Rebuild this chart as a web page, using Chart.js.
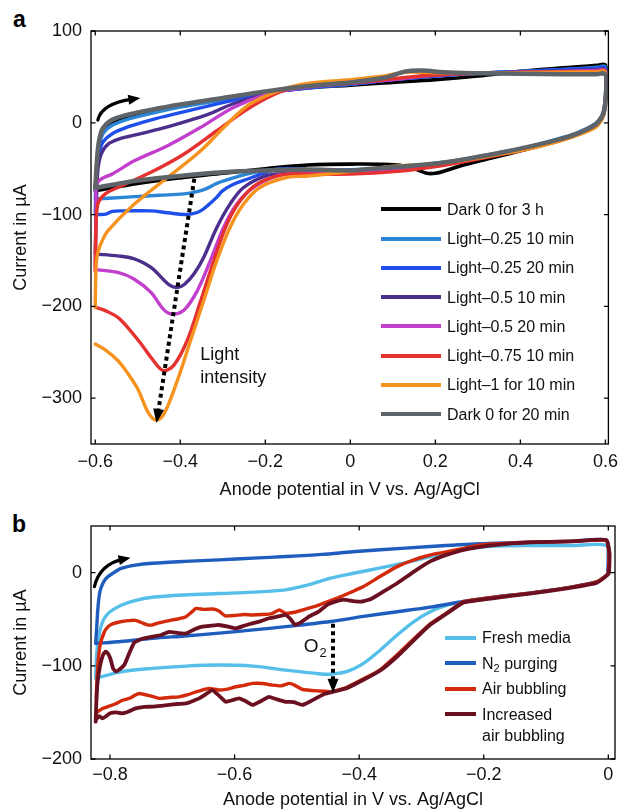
<!DOCTYPE html>
<html><head><meta charset="utf-8">
<script src="https://cdn.jsdelivr.net/npm/chart.js@4"></script>
<style>
html,body{margin:0;padding:0;background:#fff;}
body{width:625px;height:811px;position:relative;overflow:hidden;font-family:'Liberation Sans',Arial,Helvetica,sans-serif;}
#wa{position:absolute;left:0;top:0;width:625px;height:505px;}
#wb{position:absolute;left:0;top:505px;width:625px;height:306px;}
.panel{position:absolute;font-weight:bold;font-size:23px;line-height:23px;color:#000;}
.legend{position:absolute;font-size:16px;color:#111;}
.row{display:flex;align-items:flex-start;}
.sw{flex:none;height:4px;}
.txt{line-height:21px;white-space:nowrap;margin-left:6px;}
.txt sub{font-size:11px;line-height:0;vertical-align:-3px;}
</style></head>
<body>
<div class="panel" style="left:13px;top:8px">a</div>
<div class="panel" style="left:12px;top:513px">b</div>
<div id="wa"><canvas id="ca"></canvas></div>
<div id="wb"><canvas id="cb"></canvas></div>
<div id="legA" class="legend" style="left:381px;top:194.6px"></div>
<div id="legB" class="legend" style="left:445px;top:625px"></div>
<script>
// ---------- tick values ----------
const xTicksA = [-0.6, -0.4, -0.2, 0, 0.2, 0.4, 0.6];
const yTicksA = [-300, -200, -100, 0, 100];
const xTicksB = [-0.8, -0.6, -0.4, -0.2, 0];
const yTicksB = [-200, -100, 0];

// ---------- panel a : [potential V, current uA] ----------
const labelsA = ['Dark 0 for 3 h', 'Light\u20130.25 10 min', 'Light\u20130.25 20 min', 'Light\u20130.5 10 min',
  'Light\u20130.5 20 min', 'Light\u20130.75 10 min', 'Light\u20131 for 10 min', 'Dark 0 for 20 min'];
const colorsA = ['#000000', '#2B86D8', '#1F4FEA', '#4C2E8C', '#C23FCD', '#E5312F', '#F6921E', '#5E6468'];

const dark3h = [[-0.600,-74],[-0.597,-52],[-0.594,-32],[-0.590,-19],[-0.582,-8],[-0.565,0],[-0.530,6],[-0.470,12],[-0.400,18],[-0.300,26],[-0.200,33],[-0.100,38],[0.000,41],[0.100,44],[0.200,47],[0.300,51],[0.400,56],[0.500,60],[0.580,62.5],[0.600,63],
  [0.601,35],[0.597,15],[0.590,6],[0.577,-1],[0.538,-11],[0.500,-18],[0.421,-28],[0.344,-37],[0.266,-46],[0.225,-52],[0.200,-55],[0.180,-55],[0.150,-50],[0.110,-46],[0.000,-45],[-0.100,-46],[-0.200,-50],[-0.300,-55],[-0.400,-60],[-0.500,-66],[-0.600,-74]];
const lt25_10 = [[-0.600,-83],[-0.598,-60],[-0.595,-38],[-0.590,-23],[-0.582,-12],[-0.565,-4],[-0.530,3],[-0.470,10],[-0.400,17],[-0.300,25],[-0.200,33],[-0.100,38],[0.000,42],[0.100,47],[0.200,51],[0.300,54],[0.400,56],[0.500,58],[0.580,60.5],[0.600,61],
  [0.601,33],[0.597,14],[0.590,6],[0.577,-1],[0.538,-10],[0.500,-16],[0.421,-26],[0.344,-33],[0.266,-40],[0.188,-45],[0.111,-49],[0.000,-51],[-0.100,-51],[-0.158,-50],[-0.200,-52],[-0.236,-55],[-0.275,-60],[-0.314,-66],[-0.340,-72],[-0.361,-75],[-0.391,-77.5],[-0.450,-79],[-0.508,-80.5],[-0.560,-82],[-0.600,-83]];
const lt25_20 = [[-0.600,-100],[-0.598,-70],[-0.595,-48],[-0.590,-32],[-0.582,-21],[-0.560,-12],[-0.520,-4],[-0.470,3],[-0.400,11],[-0.300,22],[-0.200,32],[-0.100,38],[0.000,42],[0.100,47],[0.200,51],[0.300,54],[0.400,56],[0.500,58],[0.580,59.5],[0.600,60],
  [0.601,32],[0.597,13],[0.590,5],[0.577,-2],[0.538,-11],[0.500,-17],[0.421,-27],[0.344,-34],[0.266,-41],[0.188,-46],[0.111,-50],[0.000,-52],[-0.100,-51],[-0.158,-50],[-0.197,-54],[-0.240,-61],[-0.275,-67],[-0.300,-74],[-0.314,-81],[-0.335,-90],[-0.352,-96],[-0.370,-99],[-0.390,-100],[-0.430,-98],[-0.470,-96],[-0.530,-96],[-0.560,-96.5],[-0.575,-99.5],[-0.590,-100],[-0.600,-100]];
const lt50_10 = [[-0.600,-143],[-0.598,-100],[-0.596,-70],[-0.593,-48],[-0.585,-33],[-0.569,-23],[-0.540,-17],[-0.508,-13.5],[-0.450,-7],[-0.390,1],[-0.330,10],[-0.274,21],[-0.200,31],[-0.157,37],[-0.100,40],[0.000,43],[0.100,47],[0.200,52],[0.300,54],[0.400,55],[0.500,56.5],[0.580,57.8],[0.600,58],
  [0.601,31],[0.597,13],[0.590,5],[0.577,-2],[0.538,-11],[0.500,-17],[0.421,-27],[0.344,-34],[0.266,-41],[0.188,-47],[0.111,-51],[0.000,-54],[-0.100,-54],[-0.150,-55],[-0.197,-57.7],[-0.251,-70.5],[-0.283,-88.6],[-0.314,-114],[-0.345,-146.7],[-0.368,-164.8],[-0.390,-176],[-0.405,-179.4],[-0.425,-177],[-0.469,-157.6],[-0.510,-148],[-0.547,-145],[-0.600,-143]];
const lt50_20 = [[-0.600,-160],[-0.599,-120],[-0.598,-90],[-0.597,-67],[-0.585,-61],[-0.561,-56],[-0.508,-41.4],[-0.430,-25],[-0.352,-5],[-0.275,16.7],[-0.197,31],[-0.130,37],[-0.100,39],[0.000,43],[0.100,47],[0.200,52],[0.300,54],[0.400,55],[0.500,56],[0.580,57],[0.600,57],
  [0.601,30],[0.597,12],[0.590,4],[0.577,-3],[0.538,-12],[0.500,-18],[0.421,-28],[0.344,-35],[0.266,-42],[0.188,-48],[0.111,-52],[0.000,-55],[-0.100,-55],[-0.150,-56],[-0.174,-57.7],[-0.228,-70.5],[-0.267,-88.6],[-0.298,-114],[-0.329,-150],[-0.360,-183],[-0.391,-204],[-0.420,-208.4],[-0.440,-203],[-0.469,-184.8],[-0.510,-170],[-0.547,-163],[-0.600,-160]];
const lt75_10 = [[-0.600,-162],[-0.599,-130],[-0.597,-100],[-0.592,-86],[-0.575,-77],[-0.547,-70.5],[-0.469,-54],[-0.391,-34],[-0.314,-8.7],[-0.236,16.7],[-0.158,35],[-0.100,40],[0.000,43],[0.100,48],[0.200,52],[0.300,54],[0.400,55],[0.500,55.5],[0.580,56],[0.600,56],
  [0.601,29],[0.597,11],[0.590,3],[0.577,-4],[0.538,-12],[0.500,-18.5],[0.421,-28],[0.344,-35.5],[0.266,-42.5],[0.188,-48.5],[0.111,-53],[0.000,-56],[-0.100,-56],[-0.158,-56.5],[-0.220,-66.8],[-0.259,-85],[-0.290,-110],[-0.321,-150],[-0.352,-194],[-0.384,-237.5],[-0.415,-264],[-0.440,-270],[-0.465,-258],[-0.492,-241],[-0.520,-225],[-0.547,-212],[-0.575,-205],[-0.600,-201]];
const lt1_10 = [[-0.600,-201],[-0.599,-170],[-0.597,-150],[-0.593,-140],[-0.585,-130],[-0.570,-117.6],[-0.508,-88.6],[-0.430,-59.6],[-0.352,-30.5],[-0.290,-1.5],[-0.236,20.4],[-0.158,36.7],[-0.100,43],[0.000,47],[0.080,51],[0.130,55],[0.200,54.5],[0.300,54],[0.400,54.5],[0.500,55],[0.580,55.5],[0.600,55.5],
  [0.601,28],[0.597,10],[0.590,2],[0.577,-5],[0.538,-13],[0.500,-19],[0.421,-28.5],[0.344,-35],[0.266,-41],[0.188,-45],[0.111,-47],[0.050,-50],[0.000,-53],[-0.100,-58],[-0.151,-59.6],[-0.213,-70.5],[-0.251,-88.6],[-0.283,-114],[-0.314,-150],[-0.345,-194],[-0.376,-237.5],[-0.407,-281],[-0.438,-317],[-0.456,-324],[-0.475,-316],[-0.500,-290],[-0.525,-272],[-0.547,-259],[-0.575,-248],[-0.600,-241]];
const dark20 = [[-0.600,-71],[-0.597,-48],[-0.594,-30],[-0.590,-17],[-0.582,-6],[-0.565,2],[-0.530,8],[-0.470,14],[-0.400,20],[-0.300,27],[-0.200,34],[-0.100,40],[0.000,44],[0.080,49],[0.130,56],[0.170,57],[0.220,55],[0.300,54],[0.400,53.5],[0.500,53],[0.580,53],[0.600,53],
  [0.601,30],[0.597,13],[0.590,5],[0.577,-2],[0.538,-11],[0.500,-17],[0.421,-26],[0.344,-33.5],[0.266,-40],[0.188,-45],[0.111,-48],[0.050,-50],[0.000,-52],[-0.100,-51],[-0.200,-52],[-0.300,-54],[-0.400,-58],[-0.500,-63],[-0.600,-71]];

// ---------- panel b : [potential V, current uA] ----------
const labelsB = ['Fresh media', 'N\u2082 purging', 'Air bubbling', 'Increased\nair bubbling'];
const colorsB = ['#55BFEA', '#1E5DBE', '#D32A0B', '#6A1020'];

const fresh = [[-0.823,-113],[-0.822,-95],[-0.820,-78],[-0.816,-62],[-0.810,-50],[-0.800,-42],[-0.782,-35],[-0.760,-30],[-0.732,-26.5],[-0.680,-24],[-0.625,-22.5],[-0.570,-21],[-0.518,-18.5],[-0.480,-13],[-0.446,-6],[-0.411,-1],[-0.366,5],[-0.320,11.5],[-0.286,17.2],[-0.250,22.5],[-0.222,26],[-0.180,28.5],[-0.120,29],[-0.060,29],[-0.003,29],
  [0.000,15],[-0.001,0],[-0.003,-3],[-0.019,-10],[-0.072,-17],[-0.126,-22],[-0.180,-26],[-0.232,-31],[-0.259,-35],[-0.286,-42],[-0.312,-52.6],[-0.339,-67],[-0.366,-83],[-0.393,-97.4],[-0.419,-106],[-0.446,-109],[-0.465,-108.5],[-0.518,-104.6],[-0.571,-100.3],[-0.625,-99.2],[-0.678,-100.3],[-0.732,-102.8],[-0.782,-106.4],[-0.823,-113.6]];
const n2 = [[-0.823,-76],[-0.821,-55],[-0.819,-35],[-0.816,-20],[-0.811,-11],[-0.806,-6],[-0.796,-1],[-0.782,4.5],[-0.759,8],[-0.732,10],[-0.680,12],[-0.625,13.6],[-0.570,15.5],[-0.518,17.2],[-0.460,19.5],[-0.411,22.3],[-0.366,24.5],[-0.286,28],[-0.206,30.9],[-0.126,32.6],[-0.060,33.5],[-0.003,34.5],
  [0.000,20],[-0.001,0],[-0.003,-3],[-0.019,-10],[-0.072,-17],[-0.126,-22],[-0.180,-26],[-0.232,-31],[-0.286,-37],[-0.339,-42],[-0.393,-47],[-0.446,-52.5],[-0.518,-58],[-0.570,-61.5],[-0.625,-65],[-0.680,-68],[-0.732,-70.5],[-0.782,-74],[-0.823,-76]];
const air = [[-0.822,-135],[-0.821,-115],[-0.819,-95],[-0.816,-78],[-0.809,-63.5],[-0.803,-58],[-0.796,-55],[-0.785,-53],[-0.770,-51.5],[-0.759,-51.3],[-0.748,-54],[-0.740,-56],[-0.732,-56.2],[-0.722,-54],[-0.705,-51.5],[-0.690,-49.5],[-0.678,-47.3],[-0.670,-43],[-0.662,-38.4],[-0.650,-39.5],[-0.635,-39],[-0.625,-41.2],[-0.615,-46.5],[-0.600,-46],[-0.585,-45],[-0.5715,-45.5],[-0.555,-45],[-0.540,-44],[-0.528,-40],[-0.518,-43.7],[-0.500,-42],[-0.490,-40],[-0.475,-37],[-0.465,-34.8],[-0.446,-30],[-0.430,-26],[-0.411,-20.4],[-0.393,-15],[-0.366,-4],[-0.339,6.4],[-0.312,13.6],[-0.286,18.9],[-0.232,26],[-0.206,29.7],[-0.126,32.6],[-0.060,33.5],[-0.003,34.5],
  [0.001,20],[0.000,0],[-0.003,-3],[-0.019,-10],[-0.072,-17],[-0.126,-22],[-0.180,-26],[-0.232,-31],[-0.259,-43],[-0.286,-55],[-0.312,-71],[-0.339,-88],[-0.366,-104],[-0.393,-114],[-0.420,-123],[-0.443,-127.9],[-0.465,-127],[-0.491,-125.4],[-0.503,-121],[-0.512,-118.9],[-0.525,-121.5],[-0.539,-120.7],[-0.555,-119],[-0.571,-118.9],[-0.585,-121],[-0.598,-122.5],[-0.612,-125],[-0.625,-126],[-0.641,-124.3],[-0.652,-126],[-0.662,-127.9],[-0.675,-131],[-0.689,-133.3],[-0.705,-134],[-0.721,-135],[-0.737,-132],[-0.753,-129.7],[-0.761,-132],[-0.769,-135],[-0.780,-137],[-0.790,-140.4],[-0.800,-143],[-0.812,-145.8],[-0.820,-149.4]];
const increased = [[-0.823,-160],[-0.822,-140],[-0.820,-118],[-0.816,-100],[-0.811,-88],[-0.807,-84.8],[-0.803,-87],[-0.799,-93],[-0.795,-103],[-0.791,-106],[-0.785,-104],[-0.777,-99],[-0.770,-88],[-0.761,-75],[-0.748,-71],[-0.732,-68.8],[-0.718,-67],[-0.705,-63.5],[-0.690,-65],[-0.678,-65.3],[-0.665,-61],[-0.652,-58],[-0.638,-57],[-0.625,-56.2],[-0.610,-58],[-0.598,-59.8],[-0.585,-57],[-0.5715,-54.4],[-0.558,-52],[-0.545,-49],[-0.530,-47],[-0.518,-45.5],[-0.510,-50],[-0.503,-56],[-0.495,-54],[-0.480,-47],[-0.465,-41.9],[-0.450,-34],[-0.438,-31.1],[-0.425,-29],[-0.410,-30.5],[-0.395,-31],[-0.380,-28],[-0.360,-20],[-0.339,-11.4],[-0.312,1.1],[-0.286,12],[-0.260,19],[-0.232,24.5],[-0.180,29.7],[-0.126,32.5],[-0.060,33.5],[-0.003,35],
  [0.002,20],[0.001,0],[-0.002,-3],[-0.019,-11],[-0.072,-17.5],[-0.126,-22.5],[-0.180,-27],[-0.232,-32],[-0.259,-43.7],[-0.286,-56],[-0.312,-72.4],[-0.339,-90],[-0.366,-105],[-0.393,-115],[-0.420,-124],[-0.443,-128],[-0.455,-130],[-0.465,-133.3],[-0.478,-138],[-0.491,-142],[-0.505,-139],[-0.518,-138.6],[-0.532,-136],[-0.545,-133.3],[-0.558,-138],[-0.571,-142],[-0.582,-138],[-0.593,-135],[-0.604,-137],[-0.614,-138.6],[-0.625,-132],[-0.636,-126],[-0.647,-131],[-0.657,-135],[-0.668,-138],[-0.678,-140.4],[-0.692,-141],[-0.705,-142],[-0.718,-143],[-0.732,-143.9],[-0.745,-144],[-0.759,-145.7],[-0.770,-149],[-0.780,-151],[-0.790,-150],[-0.800,-151],[-0.806,-154],[-0.812,-156.5],[-0.817,-154],[-0.823,-158]];

const seriesA = [dark3h, lt25_10, lt25_20, lt50_10, lt50_20, lt75_10, lt1_10, dark20];
const seriesB = [fresh, n2, air, increased];

// ---------- helpers ----------
Chart.defaults.font.family = "'Liberation Sans', Arial, Helvetica, sans-serif";
Chart.defaults.color = '#111';
const pts = arr => arr.map(([x, y]) => ({x, y}));
const fmt = v => (v < 0 ? '\u2212' : '') + String(Math.round(Math.abs(v) * 100) / 100);

const framePlugin = {
  id: 'frame',
  afterDatasetsDraw(chart) {
    const {ctx, chartArea: a} = chart;
    const x = chart.scales.x, y = chart.scales.y;
    ctx.save();
    ctx.strokeStyle = '#000';
    ctx.lineWidth = 1.3;
    ctx.strokeRect(a.left, a.top, a.right - a.left, a.bottom - a.top);
    const L = 4.5;
    ctx.beginPath();
    x.ticks.forEach(t => {
      const p = x.getPixelForValue(t.value);
      ctx.moveTo(p, a.bottom); ctx.lineTo(p, a.bottom - L);
      ctx.moveTo(p, a.top); ctx.lineTo(p, a.top + L);
    });
    y.ticks.forEach(t => {
      const p = y.getPixelForValue(t.value);
      ctx.moveTo(a.left, p); ctx.lineTo(a.left + L, p);
      ctx.moveTo(a.right, p); ctx.lineTo(a.right - L, p);
    });
    ctx.stroke();
    ctx.restore();
  }
};

function head(ctx, tip, dir, len, wid) {
  const n = Math.hypot(dir[0], dir[1]);
  const ux = dir[0] / n, uy = dir[1] / n;
  const bx = tip[0] - ux * len, by = tip[1] - uy * len;
  ctx.beginPath();
  ctx.moveTo(tip[0], tip[1]);
  ctx.lineTo(bx - uy * wid / 2, by + ux * wid / 2);
  ctx.lineTo(bx + uy * wid / 2, by - ux * wid / 2);
  ctx.closePath();
  ctx.fill();
}

const notesPlugin = {
  id: 'notes',
  afterDatasetsDraw(chart, args, opts) {
    const {ctx} = chart;
    const x = chart.scales.x, y = chart.scales.y;
    const P = p => [x.getPixelForValue(p[0]), y.getPixelForValue(p[1])];
    ctx.save();
    ctx.fillStyle = '#000';
    ctx.strokeStyle = '#000';
    (opts.curved || []).forEach(c => {
      const s = P(c.from), k = P(c.ctrl), e = P(c.to);
      const d = [e[0] - k[0], e[1] - k[1]];
      const n = Math.hypot(d[0], d[1]);
      const e2 = [e[0] - d[0] / n * 8, e[1] - d[1] / n * 8];
      ctx.lineWidth = 3.2; ctx.lineCap = 'round'; ctx.setLineDash([]);
      ctx.beginPath(); ctx.moveTo(s[0], s[1]); ctx.quadraticCurveTo(k[0], k[1], e2[0], e2[1]); ctx.stroke();
      head(ctx, e, d, 12, 10);
    });
    (opts.dotted || []).forEach(c => {
      const s = P(c.from), e = P(c.to);
      const d = [e[0] - s[0], e[1] - s[1]];
      const n = Math.hypot(d[0], d[1]);
      const e2 = [e[0] - d[0] / n * 11, e[1] - d[1] / n * 11];
      ctx.lineWidth = 4; ctx.lineCap = 'butt'; ctx.setLineDash([4, 3.5]);
      ctx.beginPath(); ctx.moveTo(s[0], s[1]); ctx.lineTo(e2[0], e2[1]); ctx.stroke();
      ctx.setLineDash([]);
      head(ctx, e, d, 14, 11);
    });
    (opts.texts || []).forEach(t => {
      const p = P(t.at);
      ctx.fillStyle = '#111';
      ctx.font = t.size + "px 'Liberation Sans', Arial, sans-serif";
      ctx.textAlign = 'left'; ctx.textBaseline = 'middle';
      ctx.fillText(t.text, p[0], p[1]);
      if (t.sub) {
        const w = ctx.measureText(t.text).width;
        ctx.font = t.subSize + "px 'Liberation Sans', Arial, sans-serif";
        ctx.fillText(t.sub, p[0] + w + 1, p[1] + 7);
      }
    });
    ctx.restore();
  }
};

function makeChart(id, series, colors, labels, cfg) {
  const datasets = series.map((s, i) => ({
    label: labels[i],
    data: pts(s),
    borderColor: colors[i],
    backgroundColor: colors[i],
    borderWidth: cfg.widths[i],
    order: cfg.orders[i],
    showLine: true,
    pointRadius: 0,
    tension: cfg.tension[i],
    borderJoinStyle: 'round',
    borderCapStyle: 'round',
    fill: false
  }));
  return new Chart(document.getElementById(id), {
    type: 'scatter',
    data: {datasets},
    options: {
      responsive: true, maintainAspectRatio: false, animation: false,
      events: [],
      layout: {padding: cfg.padding},
      plugins: {legend: {display: false}, tooltip: {enabled: false}, notes: cfg.notes},
      scales: {
        x: {
          type: 'linear', min: cfg.xMin, max: cfg.xMax,
          afterBuildTicks: s => { s.ticks = cfg.xTicks.map(v => ({value: v})); },
          afterFit: s => { s.height = cfg.xH; },
          grid: {display: false, drawTicks: false}, border: {display: false},
          ticks: {padding: cfg.xPad, font: {size: 18}, color: '#111', callback: fmt, maxRotation: 0, autoSkip: false},
          title: {display: true, text: 'Anode potential in V vs. Ag/AgCl', font: {size: 18}, color: '#111', padding: {top: 0, bottom: cfg.xTitlePad}}
        },
        y: {
          type: 'linear', min: cfg.yMin, max: cfg.yMax,
          afterBuildTicks: s => { s.ticks = cfg.yTicks.map(v => ({value: v})); },
          afterFit: s => { s.width = 91; },
          grid: {display: false, drawTicks: false}, border: {display: false},
          ticks: {padding: 9, font: {size: 18}, color: '#111', callback: fmt, autoSkip: false},
          title: {display: true, text: 'Current in \u00b5A', font: {size: 18}, color: '#111', padding: {top: 10, bottom: 0}}
        }
      }
    },
    plugins: [notesPlugin, framePlugin]
  });
}

function buildLegend(el, labels, colors, swW, rowH) {
  labels.forEach((lab, i) => {
    const row = document.createElement('div'); row.className = 'row';
    const sw = document.createElement('span'); sw.className = 'sw';
    sw.style.width = swW + 'px'; sw.style.background = colors[i];
    sw.style.marginTop = (rowH / 2 - 2) + 'px';
    const tx = document.createElement('span'); tx.className = 'txt';
    tx.style.paddingTop = tx.style.paddingBottom = ((rowH - 21) / 2) + 'px';
    tx.innerHTML = lab.replace('\u2082', '<sub>2</sub>').replace('\n', '<br>');
    row.append(sw, tx); el.append(row);
  });
}

const chartA = makeChart('ca', seriesA, colorsA, labelsA, {
  widths: [3.6, 3.4, 3.4, 3.4, 3.4, 3.4, 3.4, 4.5], orders: [7, 6, 5, 4, 3, 2, 1, 0],
  tension: [0.35, 0.35, 0.35, 0.35, 0.35, 0.35, 0.35, 0.35],
  padding: {top: 31, right: 12, left: 0, bottom: 0},
  xMin: -0.61, xMax: 0.607, yMin: -350, yMax: 100,
  xTicks: xTicksA, yTicks: yTicksA, xH: 61, xPad: 7, xTitlePad: 4,
  notes: {
    curved: [{from: [-0.594, 3], ctrl: [-0.585, 21], to: [-0.494, 27]}],
    dotted: [{from: [-0.367, -61], to: [-0.456, -327]}],
    texts: [{at: [-0.353, -253], text: 'Light', size: 18}, {at: [-0.353, -278], text: 'intensity', size: 18}]
  }
});

const chartB = makeChart('cb', seriesB, colorsB, labelsB, {
  widths: [3.4, 3.4, 3.4, 3.8], orders: [3, 2, 1, 0],
  tension: [0.3, 0.3, 0.12, 0.12],
  padding: {top: 21, right: 10, left: 0, bottom: 0},
  xMin: -0.8305, xMax: 0.0107, yMin: -200, yMax: 50,
  xTicks: xTicksB, yTicks: yTicksB, xH: 52, xPad: 5.5, xTitlePad: 0,
  notes: {
    curved: [{from: [-0.825, -15], ctrl: [-0.8166, 9], to: [-0.767, 16]}],
    dotted: [{from: [-0.442, -55], to: [-0.442, -129]}],
    texts: [{at: [-0.489, -79.6], text: 'O', size: 19, sub: '2', subSize: 13}]
  }
});

buildLegend(document.getElementById('legA'), labelsA, colorsA, 60, 29.3);
buildLegend(document.getElementById('legB'), labelsB, colorsB, 31, 25.5);
</script>
</body></html>
